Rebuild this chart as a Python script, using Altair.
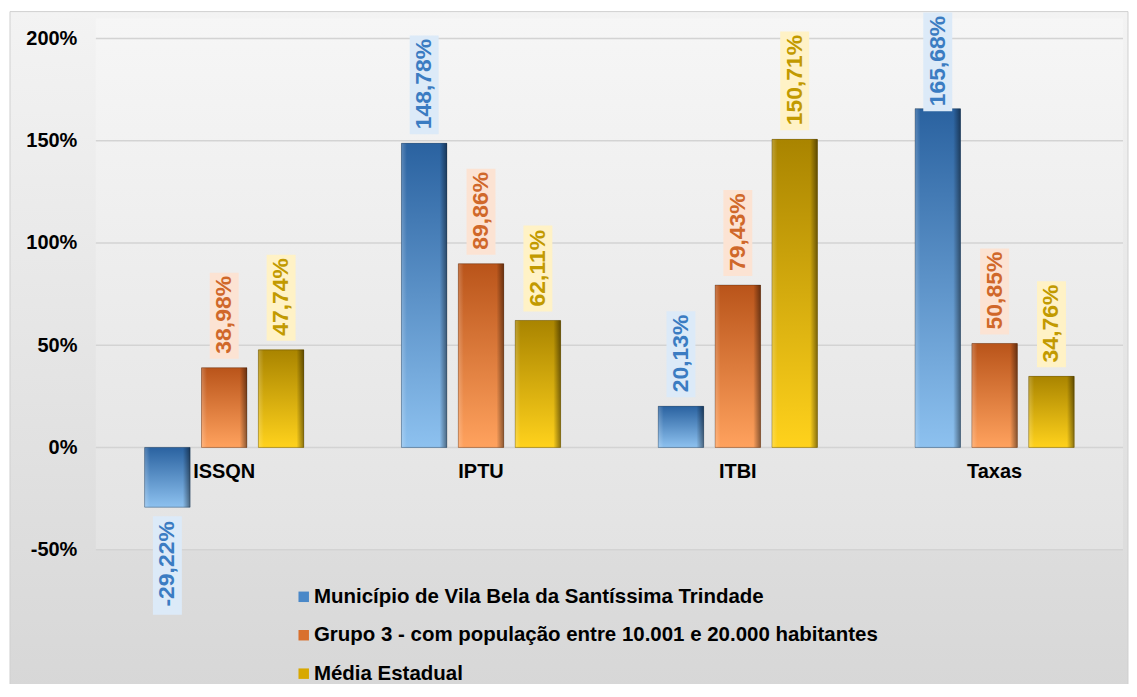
import altair as alt
import pandas as pd

# ---------------- data ----------------
categories = ["ISSQN", "IPTU", "ITBI", "Taxas"]
series = [
    "Município de Vila Bela da Santíssima Trindade",
    "Grupo 3 - com população entre 10.001 e 20.000 habitantes",
    "Média Estadual",
]
municipio = [-29.22, 148.78, 20.13, 165.68]
grupo3 = [38.98, 89.86, 79.43, 50.85]
media_estadual = [47.74, 62.11, 150.71, 34.76]
y_ticks = [-50, 0, 50, 100, 150, 200]

rows = []
for s, vals in zip(series, [municipio, grupo3, media_estadual]):
    for c, v in zip(categories, vals):
        rows.append({"cat": c, "serie": s, "valor": v,
                     "rotulo": f"{v:.2f}".replace(".", ",") + "%"})
df = pd.DataFrame(rows)
ticks_df = pd.DataFrame({"v": y_ticks})

# ---------------- styles ----------------
W, H = 1029, 512
YDOM = [-50, 200]
U = (YDOM[1] - YDOM[0]) / H  # data units per pixel
TOP_LIMIT = YDOM[1] + 26 * U  # labels are kept inside the frame
FONT = "Liberation Sans"

bar_colors = ["#4a88c8", "#d9702e", "#d8a800"]
box_colors = ["#dceaf8", "#fce3d3", "#fff2c6"]
text_colors = ["#3b7cc2", "#d0682a", "#c29a00"]
grad_stops = [
    ("#2a62a0", "#8dc1ef"),
    ("#b9541a", "#ffa25e"),
    ("#a98400", "#ffd21c"),
]


def vgrad(top, bottom):
    return alt.LinearGradient(
        gradient="linear", x1=0, x2=0, y1=0, y2=1,
        stops=[alt.GradientStop(offset=0, color=top),
               alt.GradientStop(offset=1, color=bottom)])


x_axis = alt.Axis(title=None, orient="bottom", offset=-(H * 50 / 250), labelAngle=0,
                  labelFont=FONT, labelFontSize=20, labelFontWeight="bold",
                  labelColor="black", labelPadding=14, domain=False, ticks=False,
                  grid=False, zindex=1)
y_axis = alt.Axis(title=None, values=y_ticks, labelExpr="datum.value + '%'",
                  labelFont=FONT, labelFontSize=20, labelFontWeight="bold",
                  labelColor="black", labelPadding=19, domain=False, ticks=False,
                  grid=False, zindex=1)
x_scale = alt.Scale(paddingInner=0.38, paddingOuter=0.19)
xo_scale = alt.Scale(paddingInner=0.2, paddingOuter=0)
y_scale = alt.Scale(domain=YDOM, nice=False, zero=False)


def X():
    return alt.X("cat:N", sort=categories, scale=x_scale, axis=x_axis)


def XO():
    return alt.XOffset("serie:N", sort=series, scale=xo_scale)


def Y(field):
    return alt.Y(field, type="quantitative", scale=y_scale, axis=y_axis)


# background panel
bg = alt.Chart(alt.Data(values=[{}])).mark_rect(
    color=vgrad("#f3f3f3", "#d7d7d7"), stroke="#d0d0d0", strokeWidth=1
).encode(x=alt.value(-86), x2=alt.value(W + 5), y=alt.value(-27), y2=alt.value(H + 140))

plot_bg = alt.Chart(alt.Data(values=[{}])).mark_rect(
    color=vgrad("#f6f6f6", "#e3e3e3")
).encode(x=alt.value(0), x2=alt.value(W), y=alt.value(-20), y2=alt.value(H))

grid = alt.Chart(ticks_df).mark_rule(color="#d3d3d3", strokeWidth=1.5).encode(
    y=Y("v"), x=alt.value(0), x2=alt.value(W))

base = alt.Chart(df)

bars = base.mark_bar().encode(
    x=X(), xOffset=XO(), y=Y("valor"),
    color=alt.Color("serie:N", sort=series,
                    scale=alt.Scale(domain=series, range=bar_colors),
                    legend=alt.Legend(title=None, orient="none", legendX=198, legendY=549,
                                      direction="vertical", symbolType="square",
                                      symbolSize=110, symbolStrokeWidth=0,
                                      labelFont=FONT, labelFontSize=20.5,
                                      labelFontWeight="bold", labelColor="black",
                                      labelLimit=1000, rowPadding=17.5, padding=0,
                                      labelOffset=0, symbolOffset=0)))

grad_layers = []
for s, (top, bottom) in zip(series, grad_stops):
    grad_layers.append(
        base.transform_filter(alt.datum.serie == s).mark_bar(color=vgrad(top, bottom)).encode(
            x=X(), xOffset=XO(), y=Y("valor")))

bevel = base.mark_bar(
    color=alt.LinearGradient(
        gradient="linear", x1=0, x2=1, y1=0, y2=0,
        stops=[alt.GradientStop(offset=0, color="rgba(255,255,255,0.22)"),
               alt.GradientStop(offset=0.12, color="rgba(255,255,255,0)"),
               alt.GradientStop(offset=0.84, color="rgba(0,0,0,0)"),
               alt.GradientStop(offset=1, color="rgba(0,0,0,0.45)")]),
    stroke="rgba(0,0,0,0.25)", strokeWidth=1
).encode(x=X(), xOffset=XO(), y=Y("valor"))

labels = base.transform_calculate(
    sgn="datum.valor >= 0 ? 1 : -1",
    box_px="12.7 * length(datum.rotulo) + 10",
).transform_calculate(
    b1r=f"datum.valor + datum.sgn * 9 * {U}",
    b2r=f"datum.valor + datum.sgn * (9 + datum.box_px) * {U}",
).transform_calculate(
    shift=f"max(0, datum.b2r - {TOP_LIMIT})",
).transform_calculate(
    b1="datum.b1r - datum.shift",
    b2="datum.b2r - datum.shift",
)

boxes = labels.mark_rule(strokeWidth=29, strokeCap="butt").encode(
    x=X(), xOffset=XO(), y=Y("b1"), y2="b2:Q",
    color=alt.Color("serie:N", sort=series,
                    scale=alt.Scale(domain=series, range=box_colors), legend=None))

txt_color = alt.Color("serie:N", sort=series,
                      scale=alt.Scale(domain=series, range=text_colors), legend=None)

txt_pos = labels.transform_filter(alt.datum.valor >= 0).mark_text(
    angle=270, align="left", baseline="middle", dx=5,
    font=FONT, fontSize=23, fontWeight="bold").encode(
    x=X(), xOffset=XO(), y=Y("b1"), text="rotulo:N", color=txt_color)

txt_neg = labels.transform_filter(alt.datum.valor < 0).mark_text(
    angle=270, align="right", baseline="middle", dx=-5,
    font=FONT, fontSize=23, fontWeight="bold").encode(
    x=X(), xOffset=XO(), y=Y("b1"), text="rotulo:N", color=txt_color)

chart = alt.layer(
    bg, plot_bg, grid, bars, *grad_layers, bevel, boxes, txt_pos, txt_neg
).resolve_scale(color="independent").properties(
    width=W, height=H,
    padding={"left": 88, "top": 30, "right": 6, "bottom": 134},
    autosize=alt.AutoSizeParams(type="none"),
    background="white",
).configure_view(stroke=None)

chart.save("out.html", embed_options={"renderer": "svg", "actions": False})
